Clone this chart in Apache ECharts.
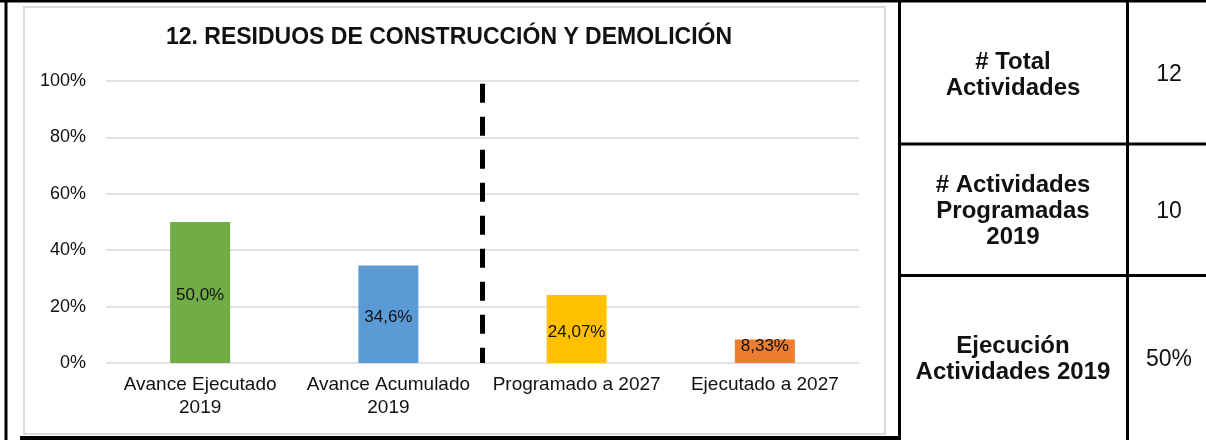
<!DOCTYPE html>
<html>
<head>
<meta charset="utf-8">
<script src="https://cdn.jsdelivr.net/npm/echarts@6/dist/echarts.min.js"></script>
<style>
  html, body { margin: 0; padding: 0; background: #fff; }
  #chart-panel { width: 1206px; height: 440px; }
</style>
</head>
<body>
<div id="chart-panel"></div>
<script>
var titleText = '12. RESIDUOS DE CONSTRUCCIÓN Y DEMOLICIÓN'
var categories = ['Avance Ejecutado\n2019', 'Avance Acumulado\n2019', 'Programado a 2027', 'Ejecutado a 2027']
var values = [50.0, 34.6, 24.07, 8.33]
var valueLabels = ['50,0%', '34,6%', '24,07%', '8,33%']
var barColors = ['#70AD47', '#5B9BD5', '#FFC000', '#ED7D31']
var yTicks = [0, 20, 40, 60, 80, 100]
// divisor entre 2019 y 2027 (posición en el eje auxiliar, 0-4)
var dividerX = 2
var dividerTop = 99

var tableLabels = ['# Total\nActividades', '# Actividades\nProgramadas\n2019', 'Ejecución\nActividades 2019']
var tableValues = ['12', '10', '50%']

var font = 'Liberation Sans, Arial, sans-serif'

// tabla de la derecha
var rowTops = [2, 144, 275]
var rowBottoms = [144, 275, 440]
var tableGraphics = []
tableLabels.forEach(function (lbl, i) {
    var cy = (rowTops[i] + rowBottoms[i]) / 2 + 2
    tableGraphics.push({
        type: 'text',
        position: [1013, cy],
        style: {
            text: lbl, x: 0, y: 0, align: 'center', verticalAlign: 'middle',
            font: 'bold 24px ' + font, fill: '#111', lineHeight: 26
        }
    })
    tableGraphics.push({
        type: 'text',
        position: [1169, cy],
        style: {
            text: tableValues[i], x: 0, y: 0, align: 'center', verticalAlign: 'middle',
            font: '23px ' + font, fill: '#111'
        }
    })
})

var frameGraphics = [
    { type: 'rect', shape: { x: 24, y: 7, width: 861, height: 427 }, style: { fill: 'none', stroke: '#D9D9D9', lineWidth: 2 } },
    { type: 'line', shape: { x1: 0, y1: 1, x2: 1206, y2: 1 }, style: { stroke: '#000', lineWidth: 3 } },
    { type: 'line', shape: { x1: 6, y1: 0, x2: 6, y2: 440 }, style: { stroke: '#000', lineWidth: 3 } },
    { type: 'rect', shape: { x: 20, y: 436, width: 881, height: 4 }, style: { fill: '#000' } },
    { type: 'line', shape: { x1: 899.5, y1: 0, x2: 899.5, y2: 440 }, style: { stroke: '#000', lineWidth: 3 } },
    { type: 'line', shape: { x1: 1127.5, y1: 0, x2: 1127.5, y2: 440 }, style: { stroke: '#000', lineWidth: 3 } },
    { type: 'line', shape: { x1: 899, y1: 144, x2: 1206, y2: 144 }, style: { stroke: '#000', lineWidth: 3 } },
    { type: 'line', shape: { x1: 899, y1: 275.5, x2: 1206, y2: 275.5 }, style: { stroke: '#000', lineWidth: 3 } }
]

var chartOption = {
    backgroundColor: '#fff',
    animation: false,
    title: {
        text: titleText,
        left: 449,
        top: 26,
        padding: 0,
        textAlign: 'center',
        textStyle: { fontFamily: font, fontSize: 23, fontWeight: 'bold', color: '#111' }
    },
    grid: [{
        left: 106,
        right: 347,
        top: 81,
        bottom: 77,
        containLabel: false
    }],
    xAxis: [{
        type: 'category',
        data: categories,
        axisLine: { show: false },
        axisTick: { show: false },
        axisLabel: {
            interval: 0,
            margin: 10,
            color: '#111',
            fontFamily: font,
            fontSize: 19,
            lineHeight: 23
        }
    }, {
        type: 'value',
        min: 0,
        max: 4,
        show: false
    }],
    yAxis: [{
        type: 'value',
        min: yTicks[0],
        max: yTicks[yTicks.length - 1],
        interval: 20,
        axisLine: { show: false },
        axisTick: { show: false },
        axisLabel: {
            margin: 20,
            color: '#111',
            fontFamily: font,
            fontSize: 18,
            formatter: '{value}%'
        },
        splitLine: { lineStyle: { color: '#D9D9D9', width: 1.5 } }
    }],
    series: [{
        type: 'bar',
        xAxisIndex: 0,
        yAxisIndex: 0,
        barWidth: 60,
        data: values.map(function (v, i) {
            return {
                value: v,
                itemStyle: { color: barColors[i] },
                label: i === 3 ? { position: 'insideTop', offset: [0, -7] } : { position: 'inside', offset: [0, 3] }
            }
        }),
        label: {
            show: true,
            color: '#111',
            fontFamily: font,
            fontSize: 17,
            formatter: function (p) { return valueLabels[p.dataIndex] }
        }
    }, {
        type: 'line',
        xAxisIndex: 1,
        yAxisIndex: 0,
        symbol: 'none',
        data: [[dividerX, dividerTop], [dividerX, 0]],
        lineStyle: { color: '#000', width: 5, type: [19, 14] },
        z: 5
    }],
    graphic: frameGraphics.concat(tableGraphics)
}

var chartPanel = document.getElementById('chart-panel')
var myChart = echarts.init(chartPanel)
myChart.setOption(chartOption)
</script>
</body>
</html>
